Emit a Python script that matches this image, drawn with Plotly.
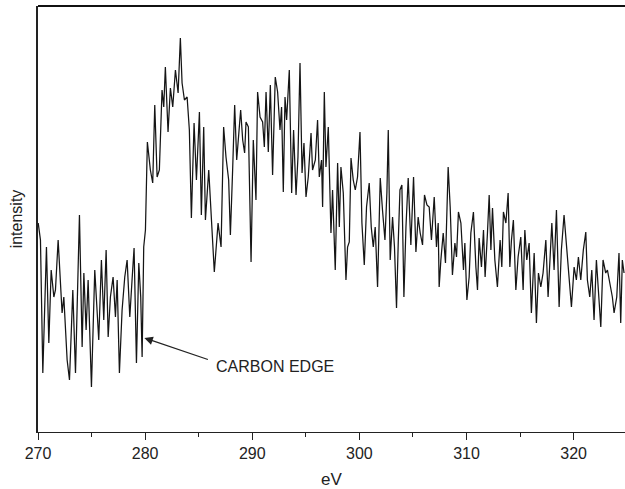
import plotly.graph_objects as go

# Energy loss (eV)
energy_ev = [
    270.02, 270.23, 270.45, 270.79, 271.01, 271.23, 271.48, 271.63, 271.88, 272.10,
    272.25, 272.41, 272.72, 272.94, 273.25, 273.50, 273.87, 274.12, 274.28, 274.49,
    274.68, 274.99, 275.30, 275.67, 275.92, 276.14, 276.36, 276.55, 276.76, 277.01,
    277.23, 277.39, 277.60, 277.85, 278.10, 278.32, 278.57, 278.78, 278.97, 279.19,
    279.41, 279.59, 279.72, 279.87, 280.03, 280.21, 280.49, 280.71, 280.90, 281.12,
    281.33, 281.58, 281.74, 281.89, 282.14, 282.36, 282.58, 282.83, 283.08, 283.29,
    283.45, 283.67, 283.92, 284.13, 284.32, 284.57, 284.79, 285.07, 285.25, 285.47,
    285.63, 285.94, 286.18, 286.46, 286.81, 287.09, 287.33, 287.55, 287.80, 287.96,
    288.17, 288.36, 288.55, 288.73, 288.92, 289.11, 289.29, 289.42, 289.64, 289.89,
    290.10, 290.35, 290.50, 290.73, 290.97, 291.13, 291.29, 291.50, 291.69, 291.90,
    292.15, 292.37, 292.59, 292.74, 292.90, 293.06, 293.21, 293.46, 293.68, 293.86,
    294.09, 294.27, 294.46, 294.65, 294.83, 295.02, 295.23, 295.49, 295.63, 295.89,
    296.10, 296.26, 296.47, 296.57, 296.73, 296.88, 297.10, 297.35, 297.50, 297.75,
    297.97, 298.13, 298.28, 298.50, 298.75, 298.90, 299.06, 299.22, 299.43, 299.62,
    299.83, 300.06, 300.24, 300.46, 300.67, 300.92, 301.11, 301.30, 301.48, 301.70,
    301.95, 302.16, 302.39, 302.57, 302.70, 302.88, 303.10, 303.28, 303.47, 303.63,
    303.79, 303.97, 304.16, 304.35, 304.56, 304.81, 305.06, 305.28, 305.49, 305.68,
    305.90, 306.08, 306.31, 306.52, 306.73, 306.99, 307.20, 307.36, 307.45, 307.61,
    307.83, 308.04, 308.29, 308.48, 308.69, 308.92, 309.07, 309.25, 309.48, 309.72,
    309.85, 310.04, 310.25, 310.41, 310.65, 310.88, 311.03, 311.18, 311.40, 311.59,
    311.74, 311.96, 312.12, 312.28, 312.43, 312.65, 312.89, 313.14, 313.30, 313.45,
    313.68, 313.89, 314.05, 314.20, 314.38, 314.61, 314.82, 315.07, 315.29, 315.45,
    315.63, 315.85, 316.06, 316.32, 316.53, 316.72, 316.94, 317.15, 317.41, 317.62,
    317.81, 317.97, 318.18, 318.40, 318.65, 318.86, 319.11, 319.37, 319.58, 319.80,
    320.05, 320.26, 320.45, 320.67, 320.91, 321.14, 321.29, 321.51, 321.70, 321.91,
    322.13, 322.38, 322.54, 322.75, 323.00, 323.16, 323.37, 323.62, 323.78, 324.03,
    324.24, 324.40, 324.55, 324.71,
]

# Intensity (arbitrary units)
intensity = [
    209, 192, 59, 185, 89, 162, 135, 142, 192, 155,
    119, 135, 72, 52, 142, 59, 217, 85, 159, 102,
    152, 45, 162, 92, 172, 112, 182, 95, 135, 155,
    115, 152, 59, 122, 155, 172, 115, 152, 184, 69,
    169, 135, 75, 185, 202, 290, 262, 249, 327, 255,
    262, 342, 325, 365, 300, 344, 325, 362, 339, 394,
    349, 332, 335, 302, 214, 309, 252, 320, 217, 305,
    212, 262, 215, 160, 209, 185, 305, 275, 252, 197,
    262, 327, 272, 295, 322, 292, 279, 310, 305, 170,
    292, 232, 340, 315, 310, 285, 340, 280, 347, 257,
    355, 340, 302, 325, 240, 335, 312, 362, 239, 302,
    237, 275, 369, 259, 289, 235, 255, 299, 262, 272,
    312, 255, 272, 225, 340, 265, 305, 199, 242, 162,
    269, 205, 265, 239, 152, 185, 190, 274, 252, 242,
    255, 300, 209, 167, 225, 249, 205, 185, 205, 145,
    254, 222, 192, 239, 302, 172, 215, 185, 124, 189,
    242, 247, 135, 205, 254, 187, 255, 180, 215, 199,
    187, 237, 227, 225, 192, 235, 185, 209, 145, 172,
    199, 169, 265, 225, 157, 189, 175, 220, 209, 162,
    189, 132, 155, 199, 220, 165, 142, 194, 165, 202,
    155, 199, 237, 182, 224, 172, 145, 192, 165, 220,
    209, 239, 165, 192, 212, 142, 175, 195, 142, 202,
    172, 189, 119, 179, 109, 159, 145, 159, 192, 135,
    175, 209, 162, 222, 125, 182, 217, 182, 152, 125,
    165, 152, 175, 152, 182, 200, 152, 135, 162, 112,
    172, 135, 105, 172, 159, 162, 149, 135, 119, 135,
    179, 109, 172, 159,
]

x_ticks = [270, 280, 290, 300, 310, 320]
x_label = "eV"
y_label = "intensity"
edge_label = "CARBON EDGE"
edge_tip = (279.93, 94)
edge_tail = (286.0, 72)
edge_text_pos = (286.46, 66)

FONT = "Arial, Liberation Sans, sans-serif"
INK = "#222222"

fig = go.Figure()
fig.add_trace(go.Scatter(
    x=energy_ev, y=intensity, mode="lines",
    line=dict(color="#151515", width=1.25),
    showlegend=False, hoverinfo="skip",
))

# arrow
fig.add_annotation(
    x=edge_tip[0], y=edge_tip[1], ax=edge_tail[0], ay=edge_tail[1],
    xref="x", yref="y", axref="x", ayref="y",
    text="", showarrow=True, arrowhead=2, arrowsize=1.3, arrowwidth=1.3,
    arrowcolor=INK, standoff=0, startstandoff=0,
)
fig.add_annotation(
    x=edge_text_pos[0], y=edge_text_pos[1], xref="x", yref="y",
    text=edge_label, showarrow=False, xanchor="left", yanchor="middle",
    font=dict(family=FONT, size=16, color=INK),
)

# thick top border
fig.add_shape(type="line", xref="paper", yref="paper", x0=0, x1=1, y0=1, y1=1,
              line=dict(color="#111111", width=2.2))

fig.update_layout(
    width=625, height=489,
    margin=dict(l=38, r=0, t=6, b=57),
    paper_bgcolor="white", plot_bgcolor="white",
    font=dict(family=FONT, size=16, color=INK),
    xaxis=dict(
        range=[270, 324.8], tickvals=x_ticks, ticktext=[str(t) for t in x_ticks],
        showgrid=False, zeroline=False, showline=True, linecolor=INK, linewidth=1.2,
        ticks="outside", ticklen=7, tickwidth=1.2, tickcolor=INK,
        minor=dict(dtick=5, tick0=270, ticks="outside", ticklen=4, tickwidth=1.2, tickcolor=INK),
        tickfont=dict(family=FONT, size=16, color=INK),
        title=dict(text=x_label, font=dict(family=FONT, size=17, color=INK), standoff=12),
    ),
    yaxis=dict(
        range=[0, 426], showticklabels=False, showgrid=False, zeroline=False,
        showline=True, linecolor=INK, linewidth=1.5, ticks="",
        title=dict(text=y_label, font=dict(family=FONT, size=16, color=INK), standoff=10),
    ),
)

fig.write_html("out.html")
